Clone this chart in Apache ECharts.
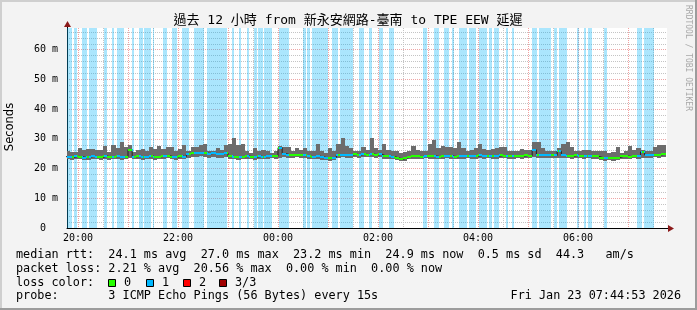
<!DOCTYPE html>
<html><head><meta charset="utf-8">
<script src="https://cdn.jsdelivr.net/npm/echarts@6/dist/echarts.min.js"></script>
<style>html,body{margin:0;padding:0;background:#f3f3f3}#c{width:697px;height:310px}</style>
</head><body><div id="c"></div>
<script>
// ---------------- DATA ----------------
const titleText = "過去 12 小時 from 新永安網路-臺南 to TPE EEW 延遲";
const viewStart = "19:46:48";
const viewEnd = "07:46:48";
const stepStart = "19:45";
const stepMinutes = 5;
const yMax = 67.3;
const xTickLabels = ["20:00", "22:00", "00:00", "02:00", "04:00", "06:00"];
const yTickLabels = ["0  ", "10 m", "20 m", "30 m", "40 m", "50 m", "60 m"];

// median rtt (ms) per 5-minute step
const medianRtt = [24.0,23.8,24.1,24.0,23.7,23.9,24.1,24.0,23.8,24.2,23.9,24.0,24.1,23.8,24.0,
26.4,
24.0,24.1,23.9,24.0,24.2,23.8,24.0,24.1,24.3,24.0,23.9,24.2,24.0,
24.9,25.3,25.1,25.4,25.2,25.0,25.1,24.9,25.0,25.2,
24.1,24.0,23.8,24.0,24.2,24.0,23.9,24.1,24.0,24.2,24.3,24.1,
27.0,25.0,
24.6,24.5,24.7,24.6,24.4,
24.1,24.0,24.2,23.9,
23.6,23.5,23.7,
24.6,24.7,24.5,24.6,24.8,24.6,
24.8,24.7,24.9,24.6,24.8,
24.2,24.1,24.0,23.6,
23.2,23.5,
24.0,24.2,24.1,24.0,24.3,24.1,24.2,24.0,24.1,24.3,24.2,24.0,24.1,
24.2,24.3,24.1,24.2,24.4,24.2,24.3,24.1,24.2,24.4,24.3,24.2,24.1,24.3,24.2,24.4,24.3,
26.3,
24.5,24.6,24.4,24.5,24.4,
25.8,
24.4,24.3,24.2,24.4,24.3,24.1,24.3,24.2,24.1,
23.7,23.5,23.6,23.5,23.7,
24.1,24.2,24.0,24.3,24.1,
25.6,
24.6,24.5,24.7,24.6,24.8];

// lowest ping (ms) per step
const pingMin = [23.2,23.0,23.3,23.1,22.8,23.0,23.2,23.1,22.9,23.3,23.0,23.1,23.2,22.9,23.1,
23.4,
23.1,23.2,23.0,23.1,23.3,22.9,23.1,23.2,23.4,23.1,23.0,23.3,23.1,
23.6,24.0,23.8,24.1,23.9,23.7,23.8,23.6,23.7,23.9,
23.2,23.1,22.9,23.1,23.3,23.1,23.0,23.2,23.1,23.3,23.4,23.2,
23.6,23.8,
23.7,23.6,23.8,23.7,23.5,
23.2,23.1,23.3,23.0,
22.8,22.7,22.9,
23.7,23.8,23.6,23.7,23.9,23.7,
23.9,23.8,24.0,23.7,23.9,
23.3,23.2,23.1,22.8,
22.5,22.7,
23.1,23.3,23.2,23.1,23.4,23.2,23.3,23.1,23.2,23.4,23.3,23.1,23.2,
23.3,23.4,23.2,23.3,23.5,23.3,23.4,23.2,23.3,23.5,23.4,23.3,23.2,23.4,23.3,23.5,23.4,
23.8,
23.6,23.7,23.5,23.6,23.5,
23.7,
23.5,23.4,23.3,23.5,23.4,23.2,23.4,23.3,23.2,
22.9,22.7,22.8,22.7,22.9,
23.2,23.3,23.1,23.4,23.2,
23.6,
23.7,23.6,23.8,23.7,23.9];

// highest ping (ms) per step
const pingMax = [25.8,25.6,25.5,26.9,26.2,26.5,26.5,26.2,26.4,27.5,25.7,27.8,27.0,29.1,27.3,
28.0,25.7,26.3,26.7,25.9,27.2,26.7,27.5,26.6,27.1,
27.1,26.0,26.6,27.9,26.0,27.1,27.1,27.9,28.2,26.0,
26.0,26.8,26.4,27.9,28.2,30.2,27.9,28.3,25.8,25.2,
26.8,25.8,26.4,26.0,25.2,25.8,27.5,27.1,27.1,25.8,
26.8,26.3,26.8,25.8,25.8,28.2,25.8,25.2,26.8,25.8,
28.2,30.2,27.5,26.8,25.8,25.8,27.1,26.3,30.2,26.8,
26.3,28.3,26.3,25.8,25.8,25.2,25.5,25.8,27.5,26.3,
26.0,26.0,28.3,29.6,26.8,27.7,27.1,27.1,26.8,29.0,
26.8,25.8,26.3,26.8,28.2,26.6,26.3,26.6,26.8,27.1,
27.1,25.8,26.0,26.0,26.6,26.3,26.3,29.0,29.0,26.8,
26.0,25.8,25.8,26.8,28.3,28.8,27.1,25.8,25.8,26.3,
26.3,25.8,26.0,25.8,25.8,25.4,25.6,27.1,25.2,25.8,
27.5,26.3,26.8,26.3,25.8,25.8,27.1,27.9,27.9];

// periods with 1/3 packet loss
const lossPeriods = [["19:46","19:53"],["19:55","19:59"],["20:05","20:11"],["20:13","20:23"],["20:31","20:35"],["20:41","20:43"],["20:47","20:55"],["21:05","21:07"],["21:13","21:18"],["21:19","21:28"],["21:30","21:31"],["21:42","21:47"],["21:53","21:59"],["22:05","22:13"],["22:19","22:31"],["22:35","22:59"],["23:05","23:07"],["23:13","23:16"],["23:23","23:25"],["23:31","23:35"],["23:36","23:42"],["23:43","23:53"],["00:01","00:13"],["00:30","00:34"],["00:35","00:38"],["00:41","01:00"],["01:05","01:12"],["01:14","01:30"],["01:37","01:43"],["01:49","01:53"],["02:01","02:06"],["02:13","02:19"],["02:54","02:59"],["03:07","03:13"],["03:19","03:25"],["03:29","03:31"],["03:37","03:47"],["03:49","03:58"],["04:01","04:11"],["04:13","04:17"],["04:19","04:25"],["04:34","04:36"],["04:41","04:43"],["05:05","05:11"],["05:13","05:28"],["05:31","05:35"],["05:37","05:47"],["05:59","06:01"],["06:07","06:10"],["06:12","06:17"],["06:31","06:35"],["07:11","07:17"],["07:19","07:31"]];

const legendLines = [
  "median rtt:  24.1 ms avg  27.0 ms max  23.2 ms min  24.9 ms now  0.5 ms sd  44.3   am/s",
  "packet loss: 2.21 % avg  20.56 % max  0.00 % min  0.00 % now",
  "loss color:",
  "probe:       3 ICMP Echo Pings (56 Bytes) every 15s"
];
const lossLabels = ["0", "1", "2", "3/3"];
const lossColors = ["#26ff00", "#00b8ff", "#ff0000", "#a10000"];
const dateText = "Fri Jan 23 07:44:53 2026";

// ---------------- BUILD ----------------
function toH(s){const p=s.split(':').map(Number);let h=p[0]+(p[1]||0)/60+(p[2]||0)/3600;if(h>=12)h-=24;return h;}
const X0 = toH(viewStart), X1 = toH(viewEnd);
const T0 = toH(stepStart), DT = stepMinutes/60;
const steps = medianRtt.map((m,i)=>[T0+i*DT, T0+(i+1)*DT, pingMin[i], pingMax[i], m]);
const loss = lossPeriods.map(([a,b])=>[toH(a), toH(b)]);
const medLine = steps.map(s=>[s[0], s[4]]);
medLine.push([steps[steps.length-1][1], steps[steps.length-1][4]]);

const MONO = '"DejaVu Sans Mono", "Noto Sans CJK TC", monospace';
const chart = echarts.init(document.getElementById('c'), null, {renderer:'canvas'});

function hourLabel(v){
  if (Math.abs(v - Math.round(v)) > 1e-6) return '';
  const h = ((Math.round(v) % 24) + 24) % 24;
  const s = (h < 10 ? '0' : '') + h + ':00';
  return xTickLabels.indexOf(s) >= 0 ? s : '';
}

const legendGraphics = [];
const rowY = [255, 268.5, 282.5, 296];
legendLines.forEach((t,i)=>legendGraphics.push({type:'text', x:16, y:rowY[i], silent:true,
  style:{text:t, font:'11.8px '+MONO, fill:'#000', align:'left', verticalAlign:'middle'}}));
const boxX = [108, 146, 183, 219];
lossLabels.forEach((l,i)=>{
  legendGraphics.push({type:'rect', shape:{x:boxX[i]+0.5, y:279.5, width:7, height:7},
    style:{fill:lossColors[i], stroke:'#000', lineWidth:1}});
  legendGraphics.push({type:'text', x:boxX[i]+16, y:rowY[2], style:{text:l, font:'11.8px '+MONO, fill:'#000', align:'left', verticalAlign:'middle'}});
});
legendGraphics.push({type:'text', x:681, y:rowY[3], style:{text:dateText, font:'11.8px '+MONO, fill:'#000', align:'right', verticalAlign:'middle'}});

const option = {
  backgroundColor:'#f3f3f3',
  animation:false,
  grid:{left:67, top:28, width:600, height:200, show:true, backgroundColor:'#ffffff', borderWidth:0, containLabel:false, outerBoundsMode:'none'},
  xAxis:[
    {type:'value', min:X0, max:X1, splitNumber:12, minInterval:1, maxInterval:1, z:1,
     axisLine:{show:true, onZero:false, lineStyle:{color:'#000', width:1}},
     axisTick:{show:false},
     axisLabel:{formatter:hourLabel, color:'#000', fontFamily:MONO, fontSize:10, margin:5, showMinLabel:true, showMaxLabel:false},
     splitLine:{show:true, showMinLine:false, showMaxLine:false, lineStyle:{color:'#f2a0a0', width:1, type:[1,1]}}},
    {type:'value', min:X0+0.5, max:X1+0.5, splitNumber:12, minInterval:1, maxInterval:1, z:0, position:'bottom',
     axisLine:{show:false}, axisTick:{show:false}, axisLabel:{show:false},
     splitLine:{show:true, showMinLine:false, showMaxLine:false, lineStyle:{color:'#c4c4c4', width:1, type:[1,1]}}}
  ],
  yAxis:[
    {type:'value', min:0, max:yMax, interval:10, z:1,
     axisLine:{show:true, onZero:false, lineStyle:{color:'#000', width:1}},
     axisTick:{show:false},
     axisLabel:{formatter:v=>{const k=Math.round(v/10); return Math.abs(v-k*10)<1e-6 && yTickLabels[k]!==undefined ? yTickLabels[k] : '';}, color:'#000', fontFamily:MONO, fontSize:10, margin:9, showMaxLabel:false},
     splitLine:{show:true, showMinLine:false, showMaxLine:false, lineStyle:{color:'#eea6a6', width:1, type:[1,1]}}},
    {type:'value', min:0, max:yMax, interval:2, z:0, position:'left',
     axisLine:{show:false}, axisTick:{show:false}, axisLabel:{show:false},
     splitLine:{show:true, showMinLine:false, showMaxLine:false, lineStyle:{color:'#c4c4c4', width:1, type:[1,1]}}}
  ],
  series:[
    {type:'custom', name:'loss', xAxisIndex:0, yAxisIndex:0, clip:true, z:2, data:loss,
     encode:{x:[0,1]},
     renderItem:(p,api)=>{const a=api.coord([api.value(0), yMax]); const b=api.coord([api.value(1), 0]);
       const x=Math.round(a[0]), w=Math.max(1, Math.round(b[0])-x);
       return {type:'rect', shape:{x:x, y:a[1], width:w, height:b[1]-a[1]}, style:{fill:'rgba(0,180,250,0.33)'}};}},
    {type:'custom', name:'smoke', xAxisIndex:0, yAxisIndex:0, clip:true, z:3, data:steps,
     encode:{x:[0,1], y:[2,3]},
     renderItem:(p,api)=>{const a=api.coord([api.value(0), api.value(3)]); const b=api.coord([api.value(1), api.value(2)]);
       const x=Math.round(a[0]), w=Math.round(b[0])-x, y=Math.round(a[1]), h=Math.round(b[1])-y;
       return {type:'rect', shape:{x:x, y:y, width:w, height:h}, style:{fill:'#6c6c6c'}};}},
    {type:'line', name:'median', xAxisIndex:0, yAxisIndex:0, data:medLine, step:'end', symbol:'none', z:4,
     lineStyle:{color:'#202020', width:1}, clip:true},
    {type:'custom', name:'median0', xAxisIndex:0, yAxisIndex:0, clip:true, z:5, data:steps,
     encode:{x:[0,1], y:4},
     renderItem:(p,api)=>{const a=api.coord([api.value(0), api.value(4)]); const b=api.coord([api.value(1), api.value(4)]);
       const x=Math.round(a[0]), w=Math.round(b[0])-x, y=Math.round(a[1]);
       return {type:'rect', shape:{x:x, y:y-1, width:w, height:2}, style:{fill:lossColors[0]}};}},
    {type:'custom', name:'median1', xAxisIndex:0, yAxisIndex:0, clip:true, z:6, data:loss,
     encode:{x:[0,1]},
     renderItem:(p,api)=>{const s0=api.value(0), s1=api.value(1); const children=[];
       steps.forEach(s=>{ if (s[1] > s0 && s[0] < s1) {
         const xa=Math.max(s[0],s0), xb=Math.min(s[1],s1);
         const a=api.coord([xa, s[4]]), b=api.coord([xb, s[4]]);
         const x=Math.round(a[0]), w=Math.max(1, Math.round(b[0])-x), y=Math.round(a[1]);
         children.push({type:'rect', shape:{x:x, y:y-1, width:w, height:2}, style:{fill:lossColors[1]}});
       }});
       return {type:'group', children:children};}}
  ],
  graphic:[
    {type:'line', shape:{x1:0, y1:1, x2:697, y2:1}, style:{stroke:'#cfcfcf', lineWidth:2}},
    {type:'line', shape:{x1:1, y1:0, x2:1, y2:310}, style:{stroke:'#cfcfcf', lineWidth:2}},
    {type:'line', shape:{x1:0, y1:309, x2:697, y2:309}, style:{stroke:'#9c9c9c', lineWidth:2}},
    {type:'line', shape:{x1:696, y1:0, x2:696, y2:310}, style:{stroke:'#9c9c9c', lineWidth:2}},
    {type:'text', x:348, y:21, style:{text:titleText, font:'13px '+MONO, fill:'#000', align:'center', verticalAlign:'middle'}},
    {type:'text', x:10, y:127, rotation:Math.PI/2, style:{text:'Seconds', font:'11.5px "DejaVu Sans"', fill:'#000', align:'center', verticalAlign:'middle'}},
    {type:'text', x:688, y:5, rotation:-Math.PI/2, style:{text:'RRDTOOL / TOBI OETIKER', font:'8px '+MONO, fill:'#a8a8a8', align:'left', verticalAlign:'middle'}},
    {type:'line', shape:{x1:67.5, y1:28, x2:67.5, y2:24}, style:{stroke:'#000', lineWidth:1}},
    {type:'polygon', shape:{points:[[64,27],[71,27],[67.5,21]]}, style:{fill:'#8b1a1a'}},
    {type:'line', shape:{x1:667, y1:228.5, x2:670, y2:228.5}, style:{stroke:'#000', lineWidth:1}},
    {type:'polygon', shape:{points:[[668,225],[668,232],[674,228.5]]}, style:{fill:'#8b1a1a'}}
  ].concat(legendGraphics)
};
chart.setOption(option);
</script></body></html>
